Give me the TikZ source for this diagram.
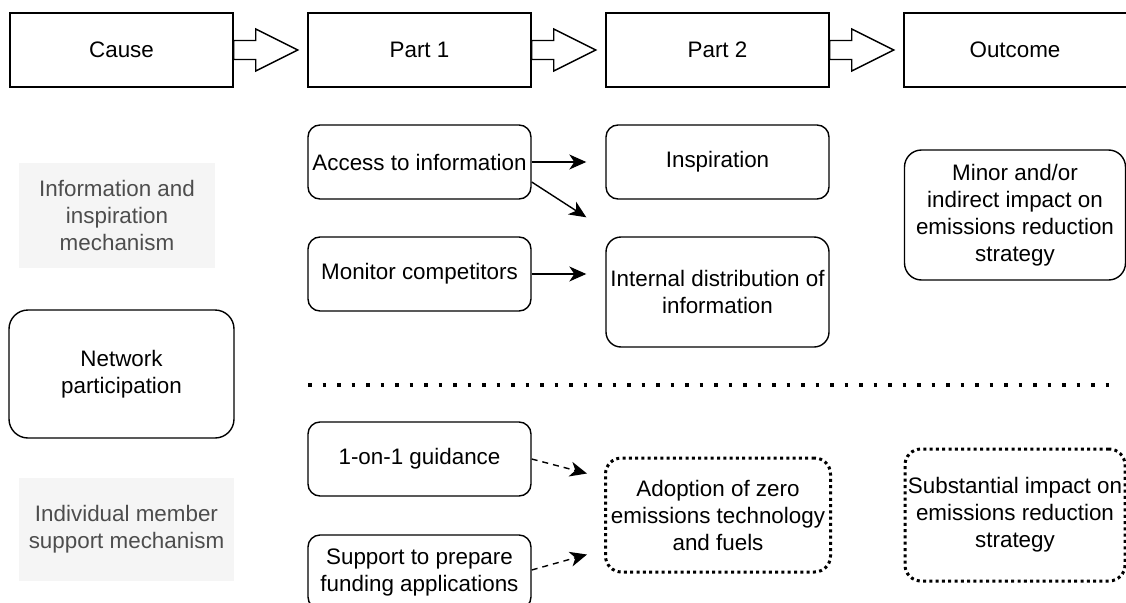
\documentclass[tikz,border=0pt]{standalone}
\usepackage{fontspec}
\setmainfont{Liberation Sans}
\usetikzlibrary{arrows.meta,calc}
\definecolor{gbg}{HTML}{F5F5F5}
\definecolor{gtext}{HTML}{4D4D4D}
\begin{document}
\begin{tikzpicture}[x=1pt,y=-1pt,
  every node/.style={font=\fontsize{22.4}{27}\selectfont, align=center, inner sep=0pt},
  hdr/.style={draw, line width=1.4pt, minimum width=223pt, minimum height=74pt},
  rbox/.style={draw, line width=1.4pt, rounded corners=12pt, minimum width=223pt},
  graybox/.style={fill=gbg, text=gtext},
  dotbox/.style={draw, line width=3pt, dash pattern=on 3pt off 3.3pt, rounded corners=16pt},
  blockarr/.style={draw, fill=white, line width=1.4pt, line join=miter},
  arr/.style={line width=1.4pt, -{Stealth[length=17pt,width=15pt,inset=5pt]}},
  darr/.style={arr, dash pattern=on 6pt off 5pt},
  sepline/.style={line width=3.5pt, dash pattern=on 3.5pt off 11pt}
]
\fill[white] (0,0) rectangle (1126,602);
\useasboundingbox (0,0) rectangle (1126,602);
\clip (0,0) rectangle (1126,602);

% header row
\node[hdr] (cause) at (121.5,50) {Cause};
\node[hdr] (part1) at (419.5,50) {Part 1};
\node[hdr] (part2) at (717.5,50) {Part 2};
\node[hdr, minimum width=250pt] (outcome) at (1029,50) {\hspace*{-28pt}Outcome};

\foreach \s in {cause,part1,part2}{
  \draw[blockarr] ($(\s.east)+(0,-9.5)$) -- ++(22,0) -- ++(0,-11.5) -- ++(42,21)
     -- ++(-42,21) -- ++(0,-11.5) -- ++(-22,0) -- cycle;
}

% left column
\node[graybox, minimum width=196pt, minimum height=105pt] (infomech) at (117,215.5)
  {Information and\\inspiration\\mechanism};
\node[rbox, minimum width=225pt, minimum height=128pt, rounded corners=19pt] (network) at (121.5,374)
  {Network\\participation};
\node[graybox, minimum width=215pt, minimum height=103pt] (indiv) at (126.5,529.5)
  {Individual member\\support mechanism};

% part 1 column
\node[rbox, minimum height=74pt] (access) at (419.5,162) {Access to information};
\node[rbox, minimum height=74pt] (monitor) at (419.5,274) {Monitor competitors};
\node[rbox, minimum height=74pt] (guid) at (419.5,459) {1-on-1 guidance};
\node[rbox, minimum height=74pt] (support) at (419.5,572) {Support to prepare\\funding applications};

% part 2 column
\node[rbox, minimum height=74pt] (insp) at (717.5,162) {Inspiration};
\node[rbox, minimum height=110pt, rounded corners=15pt] (internal) at (717.5,292)
  {Internal distribution of\\information};
\node[dotbox, minimum width=225pt, minimum height=114pt] (adopt) at (718,515)
  {Adoption of zero\\emissions technology\\and fuels};

% outcome column
\node[rbox, minimum width=221pt, minimum height=130pt, rounded corners=17pt] (minor) at (1015,215)
  {Minor and/or\\indirect impact on\\emissions reduction\\strategy};
\node[dotbox, minimum width=220pt, minimum height=132pt] (subst) at (1015,515)
  {Substantial impact on\\emissions reduction\\strategy};

% separator
\coordinate (sepL) at (308,385);
\coordinate (sepR) at (1119,385);
\draw[sepline] (sepL) -- (sepR);

% connectors
\draw[arr, shorten >=19pt] (access.east) -- (insp.west);
\draw[arr] ($(access.east)+(0,20)$) -- ($(internal.north west)+(-19,-19)$);
\draw[arr, shorten >=19pt] (monitor.east) -- (monitor.east -| internal.west);
\draw[darr] (guid.east) -- ($(adopt.north west)+(-17,17)$);
\draw[darr] ($(support.east)+(0,-2)$) -- ($(adopt.south west)+(-17,-19)$);
\end{tikzpicture}
\end{document}
